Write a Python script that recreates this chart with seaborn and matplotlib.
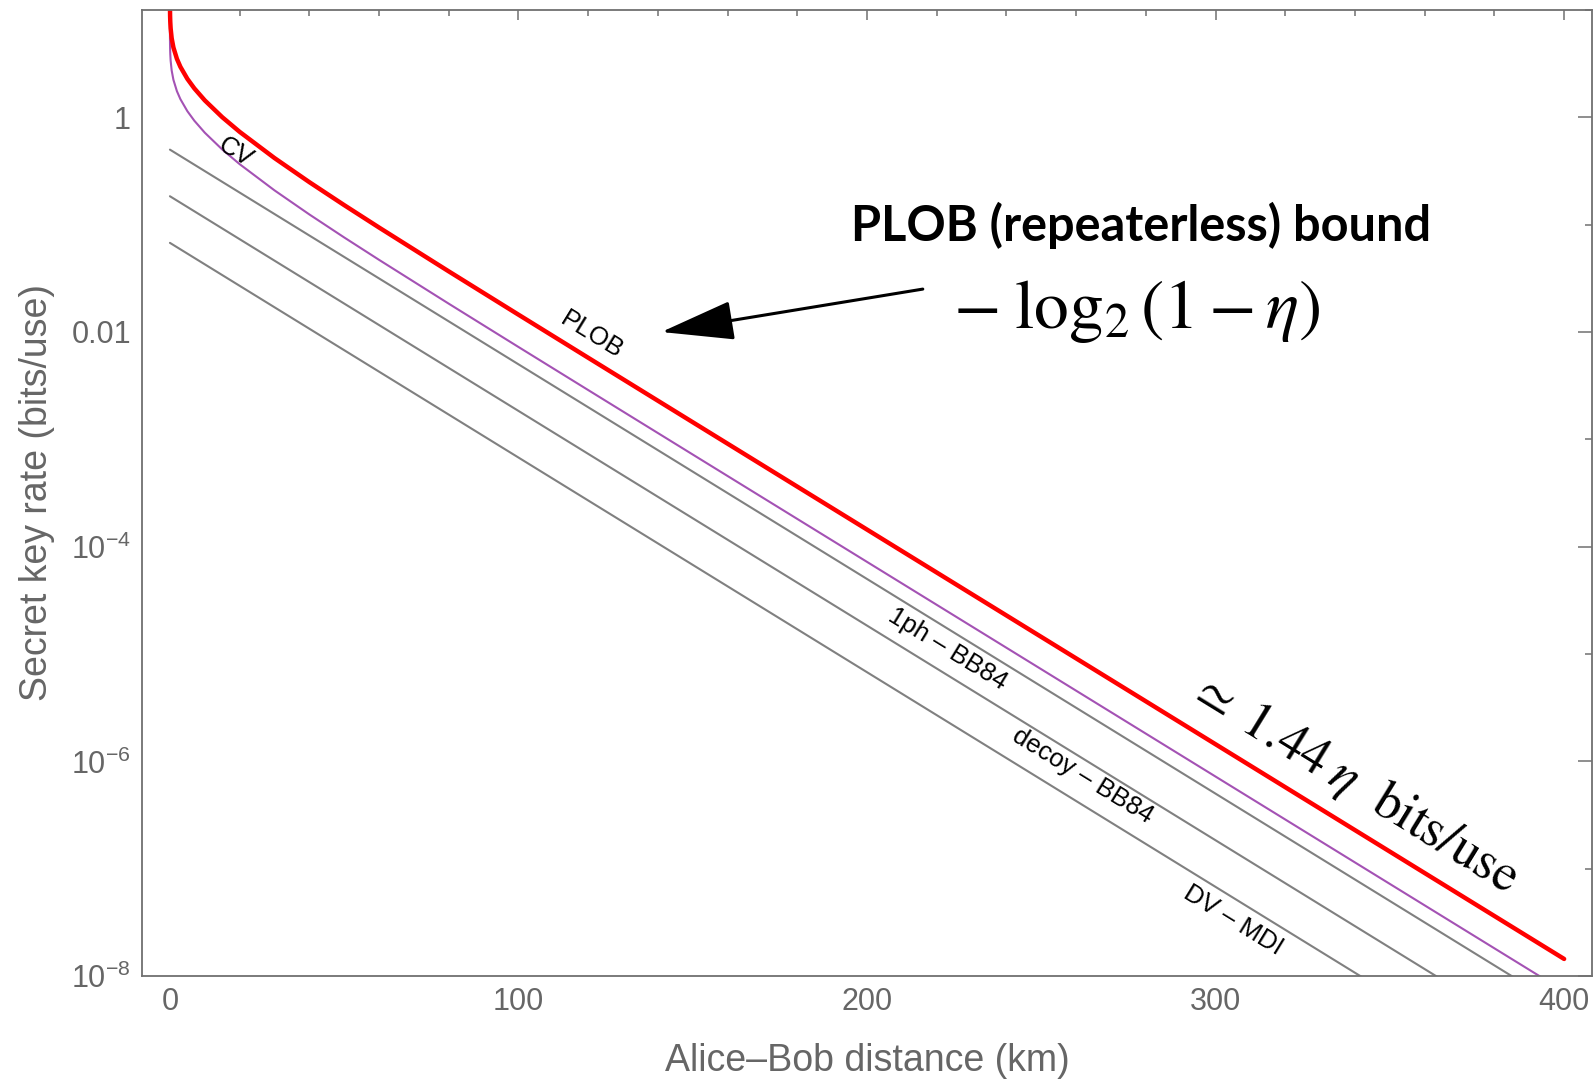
import matplotlib
matplotlib.use("Agg")
import matplotlib.pyplot as plt
from matplotlib.ticker import FixedLocator, FixedFormatter
import pandas as pd
import seaborn as sns

# Alice-Bob distance (km) at which the rates are sampled
distance_km = [0.00001, 0.0001, 0.001, 0.01, 0.02, 0.05, 0.1, 0.2, 0.5, 1, 2, 3, 5, 7,
               10, 15, 20, 30, 40, 50, 60, 80, 100, 120, 150, 200, 300, 400]

# PLOB repeaterless bound (bits/use)
plob_rate = [21.05, 17.728, 14.406, 11.085, 10.085, 8.764, 7.766, 6.769, 5.457, 4.474,
             3.507, 2.954, 2.282, 1.860, 1.438, 1.0034, 0.7324, 0.4173, 0.2489, 0.1520,
             0.09403, 0.03670, 0.01450, 0.005755, 0.0014434, 1.4428e-4, 1.4427e-6, 1.4427e-8]

# CV-QKD (coherent states, reverse reconciliation)
cv_rate = [10.525, 8.864, 7.203, 5.542, 5.043, 4.382, 3.883, 3.385, 2.729, 2.237,
           1.753, 1.477, 1.141, 0.9298, 0.7191, 0.5017, 0.3662, 0.2087, 0.1245, 0.07600,
           0.04701, 0.01835, 0.007250, 0.002878, 7.217e-4, 7.214e-5, 7.2135e-7, 7.2135e-9]

# DV protocols: straight lines on the log scale
dv_distance_km = [0, 400]
bb84_1ph_rate = [0.5, 5.0e-9]
bb84_decoy_rate = [0.18394, 1.8394e-9]
dv_mdi_rate = [0.067668, 6.7668e-10]

y_major = [1, 1e-2, 1e-4, 1e-6, 1e-8]
y_major_labels = ["1", "0.01", r"$\mathregular{10^{-4}}$", r"$\mathregular{10^{-6}}$",
                  r"$\mathregular{10^{-8}}$"]
y_minor = [10, 1e-1, 1e-3, 1e-5, 1e-7]
x_major = [0, 100, 200, 300, 400]
x_minor = [20, 40, 60, 80, 120, 140, 160, 180, 220, 240, 260, 280, 320, 340, 360, 380]

sns.set_style("white")
plt.rcParams["font.family"] = ["Liberation Sans", "DejaVu Sans"]
plt.rcParams["mathtext.fontset"] = "stix"

FRAME = "#707070"
LABEL = "#666666"

fig = plt.figure(figsize=(15.96, 10.84), dpi=100)
ax = fig.add_axes([0.0890, 0.0996, 0.9085, 0.8912])

gray_lines = pd.DataFrame({
    "d": dv_distance_km * 3,
    "rate": bb84_1ph_rate + bb84_decoy_rate + dv_mdi_rate,
    "protocol": ["1ph"] * 2 + ["decoy"] * 2 + ["mdi"] * 2,
})
sns.lineplot(data=gray_lines, x="d", y="rate", units="protocol", estimator=None,
             color="#808080", linewidth=1.5, ax=ax)
sns.lineplot(x=distance_km, y=cv_rate, color="#a452b4", linewidth=1.5, ax=ax,
             sort=False, estimator=None)
sns.lineplot(x=distance_km, y=plob_rate, color="#ff0000", linewidth=3.2, ax=ax,
             sort=False, estimator=None)

ax.set_yscale("log")
ax.set_xlim(-8, 408)
ax.set_ylim(1e-8, 10)

ax.yaxis.set_major_locator(FixedLocator(y_major))
ax.yaxis.set_major_formatter(FixedFormatter(y_major_labels))
ax.yaxis.set_minor_locator(FixedLocator(y_minor))
ax.yaxis.set_minor_formatter(FixedFormatter([""] * len(y_minor)))
ax.xaxis.set_major_locator(FixedLocator(x_major))
ax.xaxis.set_minor_locator(FixedLocator(x_minor))

for side in ax.spines.values():
    side.set_color(FRAME)
    side.set_linewidth(1.3)

ax.tick_params(axis="both", which="both", direction="in", top=True, right=True,
               color=FRAME, width=1.1, labelcolor=LABEL, labelsize=22)
ax.tick_params(axis="x", which="major", length=7.2, pad=8)
ax.tick_params(axis="x", which="minor", length=4.3)
ax.tick_params(axis="y", which="major", length=10, pad=8)
ax.tick_params(axis="y", which="minor", length=5)

ax.set_xlabel("Alice\u2013Bob distance (km)", fontsize=27, color=LABEL)
ax.set_ylabel("Secret key rate (bits/use)", fontsize=27, color=LABEL)
ax.xaxis.set_label_coords(0.5, -0.069)
ax.yaxis.set_label_coords(-0.060, 0.501)

# curve labels, aligned with the slope of the asymptotic lines
angle = -31.6
curve_labels = [
    ("CV", 18.7, 0.475),
    ("PLOB", 121, 0.00935),
    ("1ph \u2013 BB84", 223, 1.11e-5),
    ("decoy \u2013 BB84", 262, 7.26e-7),
    ("DV \u2013 MDI", 305, 3.3e-8),
]
for text, xd, yd in curve_labels:
    ax.text(xd, yd, text, fontsize=18.5, color="black", rotation=angle,
            rotation_mode="anchor", ha="center", va="center")

ax.text(339.7, 6.25e-7, r"$\simeq\;1.44\;\eta\ \ \mathrm{bits/use}$", fontsize=38,
        color="black", rotation=angle, rotation_mode="anchor", ha="center", va="center")

ax.text(278.6, 0.0705, "PLOB (repeaterless) bound", fontsize=35, fontweight="bold",
        family=["Lato", "DejaVu Sans"], color="black", ha="center", va="baseline")
ax.text(277.5, 0.01086, r"$-\;\log_2(1-\eta)$", fontsize=50, color="black",
        ha="center", va="baseline")

ax.annotate("", xy=(141, 0.0100), xytext=(216, 0.0251),
            arrowprops=dict(arrowstyle="-|>,head_length=2.3,head_width=0.62",
                            mutation_scale=20, color="black", lw=2.2,
                            shrinkA=0, shrinkB=0))

fig.savefig("out.png", dpi=100)
